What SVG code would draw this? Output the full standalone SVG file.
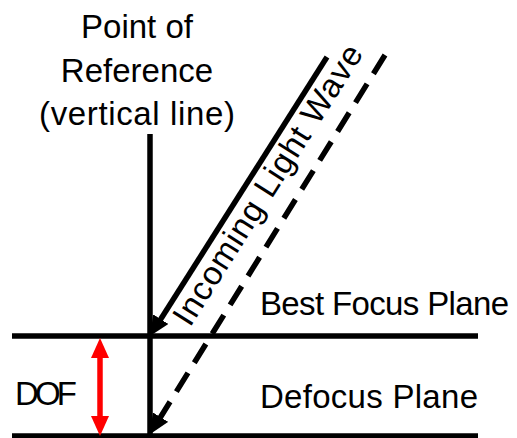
<svg xmlns="http://www.w3.org/2000/svg" width="517" height="438" viewBox="0 0 517 438">
  <style>
    .t { font-family: "Liberation Sans", Arial, sans-serif; font-size: 33px; fill: #000; }
    .ln { stroke: #000; stroke-width: 5.5; fill: none; }
  </style>
  <defs>
    <marker id="ah" markerUnits="userSpaceOnUse" markerWidth="20" markerHeight="18" viewBox="0 0 20 18" refX="1" refY="9" orient="auto">
      <path d="M0,0 L20,9 L0,18 z" fill="#000"/>
    </marker>
    <marker id="ahr" markerUnits="userSpaceOnUse" markerWidth="20" markerHeight="18" viewBox="0 0 20 18" refX="1" refY="9" orient="auto-start-reverse">
      <path d="M0,0 L20,9 L0,18 z" fill="#FF0000"/>
    </marker>
  </defs>
  <rect width="517" height="438" fill="#fff"/>
  <g id="label-reference">
    <text class="t" x="137" y="38" text-anchor="middle">Point of</text>
    <text class="t" x="137" y="82" text-anchor="middle">Reference</text>
    <text class="t" x="137" y="125" text-anchor="middle" textLength="196">(vertical line)</text>
  </g>
  <g id="best-focus-plane">
    <line class="ln" x1="12" y1="336" x2="478" y2="336"/>
    <text class="t" x="260" y="315" textLength="249">Best Focus Plane</text>
  </g>
  <g id="defocus-plane">
    <line class="ln" x1="12" y1="436" x2="478" y2="436"/>
    <text class="t" x="260" y="408" textLength="218">Defocus Plane</text>
  </g>
  <g id="vertical-line">
    <line class="ln" x1="150" y1="134" x2="150" y2="438"/>
  </g>
  <g id="dof">
    <text class="t" x="15" y="405" textLength="62">DOF</text>
  </g>
  <g id="light-wave-label">
    <text class="t" x="0" y="0" textLength="325" transform="translate(190,328) rotate(-57.6)">Incoming Light Wave</text>
  </g>
  <g id="connectors">
    <line class="ln" x1="327" y1="57" x2="160.2" y2="320" marker-end="url(#ah)"/>
    <line class="ln" x1="385" y1="55" x2="160" y2="418" stroke-dasharray="22 12" marker-end="url(#ah)"/>
    <line x1="100" y1="357" x2="100" y2="417" stroke="#FF0000" stroke-width="5.5" marker-start="url(#ahr)" marker-end="url(#ahr)"/>
  </g>
</svg>
